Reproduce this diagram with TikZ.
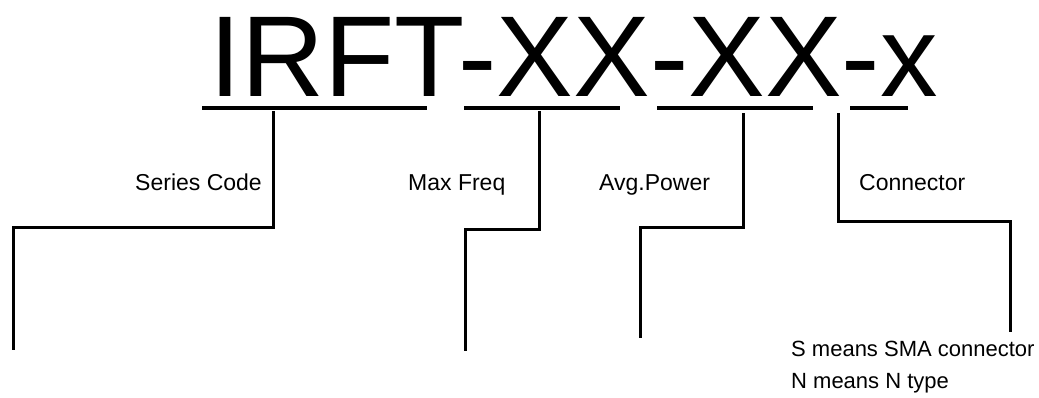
\documentclass[tikz,border=0pt]{standalone}
\usepackage{fontspec}
\setmainfont{Liberation Sans}
\begin{document}
\begin{tikzpicture}[x=1pt,y=-1pt,
  lbl/.style={inner sep=0pt,font=\fontsize{23}{27}\selectfont},
  note/.style={inner sep=0pt,font=\fontsize{22}{26}\selectfont},
  uline/.style={line width=4.5pt},
  lead/.style={line width=3pt,line join=miter}]
\useasboundingbox (0,0) rectangle (1039,397);
% title
\node[inner sep=0pt,anchor=base west,font=\fontsize{115}{120}\selectfont] (title) at (209,96) {IRFT-XX-XX-x};
% underlines
\draw[uline] (202,108) -- (427,108);
\draw[uline] (464,108) -- (620,108);
\draw[uline] (657,108) -- (813,108);
\draw[uline] (850,108) -- (908,108);
% anchor coordinates
\coordinate (s0) at (273,111);
\coordinate (s1) at (13,350);
\coordinate (f0) at (539,111);
\coordinate (f1) at (465,351);
\coordinate (p0) at (743,113);
\coordinate (p1) at (640,338);
\coordinate (c0) at (838,113);
\coordinate (c1) at (1010,332);
% leads
\draw[lead] (s0) -- (273,227) -- (13,227) -- (s1);
\draw[lead] (f0) -- (539,229) -- (465,229) -- (f1);
\draw[lead] (p0) -- (743,227) -- (640,227) -- (p1);
\draw[lead] (c0) -- (838,221) -- (1010,221) -- (c1);
% labels
\node[lbl,anchor=base east] (series) at (262,190) {Series Code};
\node[lbl,anchor=base west] (freq) at (408,190) {Max Freq};
\node[lbl,anchor=base west] (power) at (599,190) {Avg.Power};
\node[lbl,anchor=base west] (conn) at (859,190) {Connector};
\node[note,anchor=base west] (smean) at (791,356) {S means SMA connector};
\node[note,anchor=base west] (nmean) at (791,388) {N means N type};
\end{tikzpicture}
\end{document}
